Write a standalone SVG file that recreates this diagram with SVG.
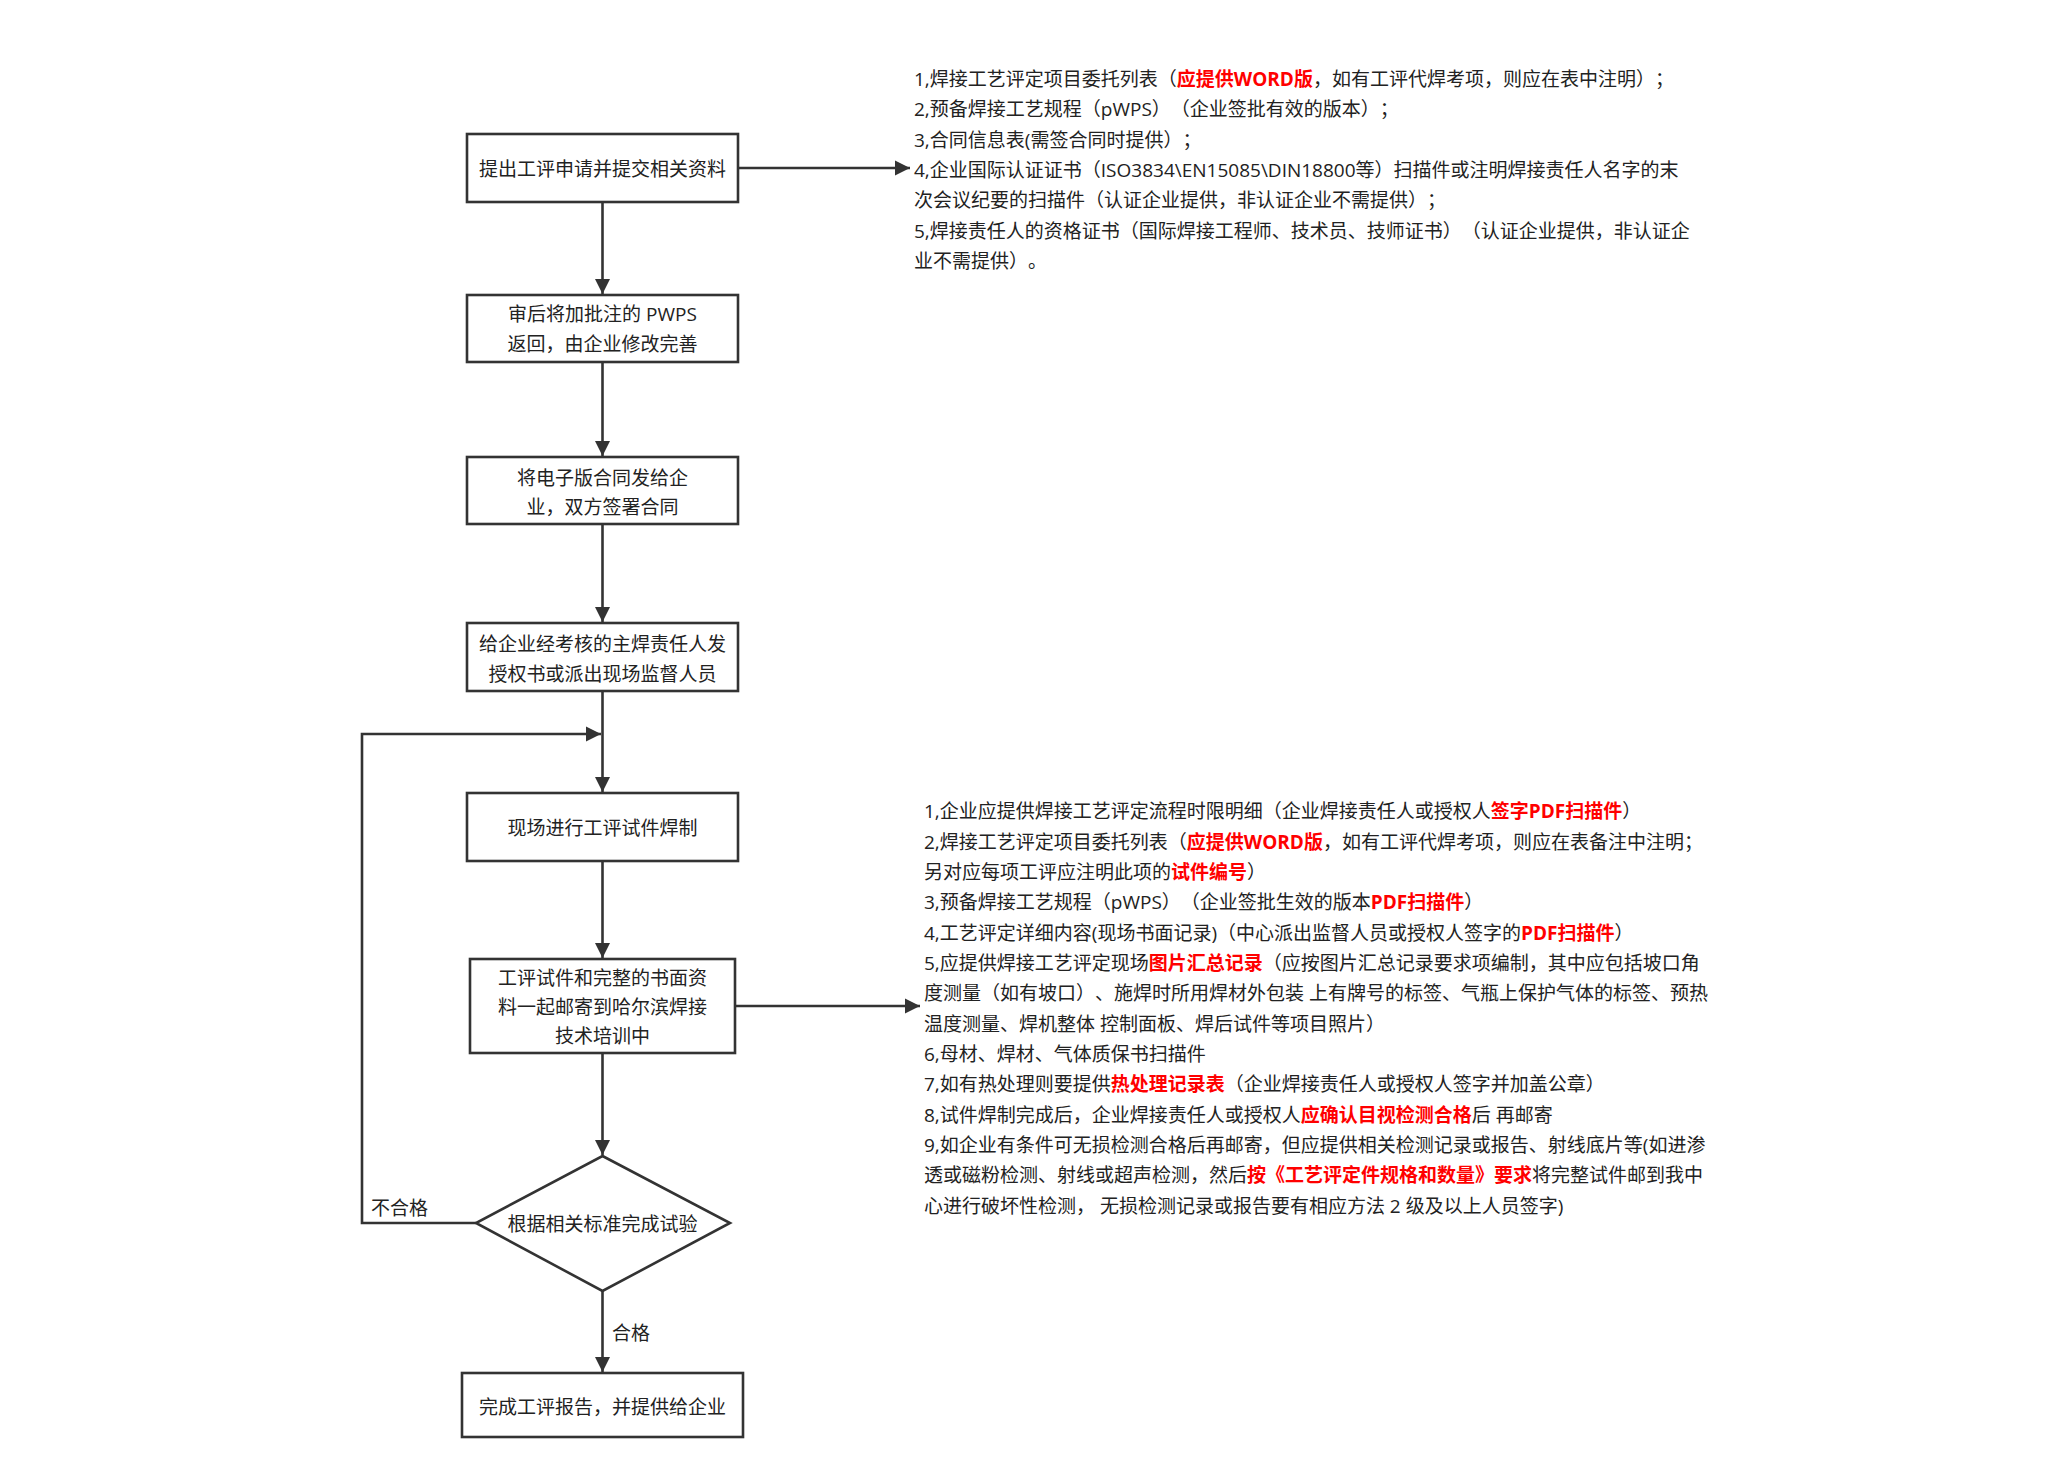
<svg xmlns="http://www.w3.org/2000/svg" width="2056" height="1472" viewBox="0 0 2056 1472">
<style>
.box{fill:#fff;stroke:#333;stroke-width:2.6}
.ln{fill:none;stroke:#333;stroke-width:2.6}
text{font-feature-settings:"chws" 0,"halt" 0,"palt" 0;text-spacing-trim:space-all}
.t{font-family:"Open Sans","Noto Sans CJK SC",sans-serif;font-size:19px;fill:#222;dominant-baseline:central}
.c{text-anchor:middle}
.n{font-family:"Open Sans","Noto Sans CJK SC",sans-serif;font-size:19px;fill:#222;dominant-baseline:central}
.r{fill:#ff0000;font-weight:bold}
</style>
<defs>
<marker id="ah" markerUnits="userSpaceOnUse" markerWidth="16" markerHeight="16" viewBox="0 0 16 16" refX="15" refY="8" orient="auto">
<path d="M0,0.5 L15,8 L0,15.5 z" fill="#333"/>
</marker>
</defs>
<rect width="2056" height="1472" fill="#fff"/>
<g id="connectors">
<line class="ln" x1="602.5" y1="202" x2="602.5" y2="294" marker-end="url(#ah)"/>
<line class="ln" x1="602.5" y1="362" x2="602.5" y2="456" marker-end="url(#ah)"/>
<line class="ln" x1="602.5" y1="524" x2="602.5" y2="622" marker-end="url(#ah)"/>
<line class="ln" x1="602.5" y1="691" x2="602.5" y2="792" marker-end="url(#ah)"/>
<polyline class="ln" points="476,1223 362,1223 362,734 601,734" marker-end="url(#ah)"/>
<line class="ln" x1="602.5" y1="861" x2="602.5" y2="958" marker-end="url(#ah)"/>
<line class="ln" x1="602.5" y1="1053" x2="602.5" y2="1155" marker-end="url(#ah)"/>
<line class="ln" x1="602.5" y1="1291" x2="602.5" y2="1372" marker-end="url(#ah)"/>
<line class="ln" x1="738" y1="168" x2="910" y2="168" marker-end="url(#ah)"/>
<line class="ln" x1="735" y1="1006" x2="920" y2="1006" marker-end="url(#ah)"/>
<text class="t" x="371" y="1207.5">不合格</text>
<text class="t" x="612" y="1332.5">合格</text>
</g>
<g id="n1">
<rect class="box" x="467" y="134" width="271" height="68"/>
<text class="t c" x="602.5" y="168.5">提出工评申请并提交相关资料</text>
</g>
<g id="n2">
<rect class="box" x="467" y="295" width="271" height="67"/>
<text class="t c" x="602.5" y="313.5">审后将加批注的 PWPS</text>
<text class="t c" x="602.5" y="343.5">返回，由企业修改完善</text>
</g>
<g id="n3">
<rect class="box" x="467" y="457" width="271" height="67"/>
<text class="t c" x="602.5" y="477.5">将电子版合同发给企</text>
<text class="t c" x="602.5" y="506.5">业，双方签署合同</text>
</g>
<g id="n4">
<rect class="box" x="467" y="623" width="271" height="68"/>
<text class="t c" x="602.5" y="643.5">给企业经考核的主焊责任人发</text>
<text class="t c" x="602.5" y="673.5">授权书或派出现场监督人员</text>
</g>
<g id="n5">
<rect class="box" x="467" y="793" width="271" height="68"/>
<text class="t c" x="602.5" y="827.5">现场进行工评试件焊制</text>
</g>
<g id="n6">
<rect class="box" x="470" y="959" width="265" height="94"/>
<text class="t c" x="602.5" y="977.5">工评试件和完整的书面资</text>
<text class="t c" x="602.5" y="1006.5">料一起邮寄到哈尔滨焊接</text>
<text class="t c" x="602.5" y="1035.5">技术培训中</text>
</g>
<g id="n7">
<polygon class="box" points="602.5,1156 730,1223 602.5,1291 476,1223"/>
<text class="t c" x="602.5" y="1223.5">根据相关标准完成试验</text>
</g>
<g id="n8">
<rect class="box" x="462" y="1373" width="281" height="64"/>
<text class="t c" x="602.5" y="1406.5">完成工评报告，并提供给企业</text>
</g>
<g id="note1">
<text class="n" x="914" y="79">1,焊接工艺评定项目委托列表（<tspan class="r">应提供WORD版</tspan>，如有工评代焊考项，则应在表中注明）；</text>
<text class="n" x="914" y="109.3">2,预备焊接工艺规程（pWPS）（企业签批有效的版本）；</text>
<text class="n" x="914" y="139.6">3,合同信息表(需签合同时提供）；</text>
<text class="n" x="914" y="169.9">4,企业国际认证证书（ISO3834\EN15085\DIN18800等）扫描件或注明焊接责任人名字的末</text>
<text class="n" x="914" y="200.2">次会议纪要的扫描件（认证企业提供，非认证企业不需提供）；</text>
<text class="n" x="914" y="230.5">5,焊接责任人的资格证书（国际焊接工程师、技术员、技师证书）（认证企业提供，非认证企</text>
<text class="n" x="914" y="260.8">业不需提供）。</text>
</g>
<g id="note2">
<text class="n" x="924" y="811.2">1,企业应提供焊接工艺评定流程时限明细（企业焊接责任人或授权人<tspan class="r">签字PDF扫描件</tspan>）</text>
<text class="n" x="924" y="841.5">2,焊接工艺评定项目委托列表（<tspan class="r">应提供WORD版</tspan>，如有工评代焊考项，则应在表备注中注明；</text>
<text class="n" x="924" y="871.9">另对应每项工评应注明此项的<tspan class="r">试件编号</tspan>）</text>
<text class="n" x="924" y="902.2">3,预备焊接工艺规程（pWPS）（企业签批生效的版本<tspan class="r">PDF扫描件</tspan>）</text>
<text class="n" x="924" y="932.5">4,工艺评定详细内容(现场书面记录)（中心派出监督人员或授权人签字的<tspan class="r">PDF扫描件</tspan>）</text>
<text class="n" x="924" y="962.9">5,应提供焊接工艺评定现场<tspan class="r">图片汇总记录</tspan>（应按图片汇总记录要求项编制，其中应包括坡口角</text>
<text class="n" x="924" y="993.3">度测量（如有坡口）、施焊时所用焊材外包装 上有牌号的标签、气瓶上保护气体的标签、预热</text>
<text class="n" x="924" y="1023.6">温度测量、焊机整体 控制面板、焊后试件等项目照片）</text>
<text class="n" x="924" y="1054">6,母材、焊材、气体质保书扫描件</text>
<text class="n" x="924" y="1084.3">7,如有热处理则要提供<tspan class="r">热处理记录表</tspan>（企业焊接责任人或授权人签字并加盖公章）</text>
<text class="n" x="924" y="1114.7">8,试件焊制完成后，企业焊接责任人或授权人<tspan class="r">应确认目视检测合格</tspan>后 再邮寄</text>
<text class="n" x="924" y="1145">9,如企业有条件可无损检测合格后再邮寄，但应提供相关检测记录或报告、射线底片等(如进渗</text>
<text class="n" x="924" y="1175.4">透或磁粉检测、射线或超声检测，然后<tspan class="r">按《工艺评定件规格和数量》要求</tspan>将完整试件邮到我中</text>
<text class="n" x="924" y="1205.7">心进行破坏性检测， 无损检测记录或报告要有相应方法 2 级及以上人员签字)</text>
</g>
</svg>
